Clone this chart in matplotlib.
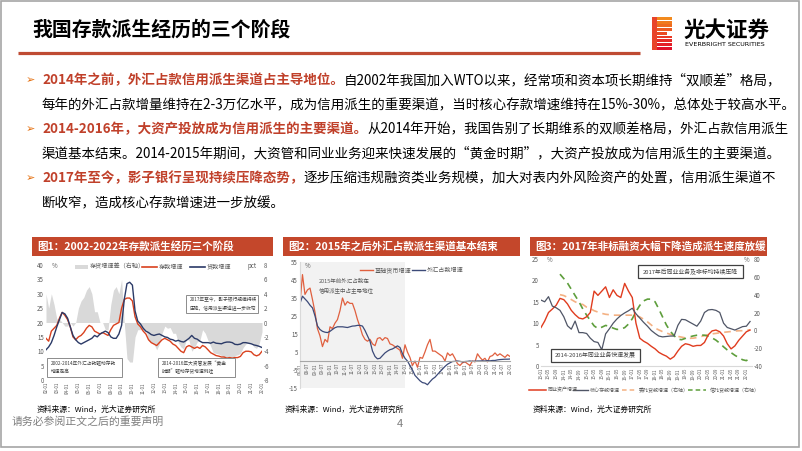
import matplotlib
matplotlib.use('Agg')
import matplotlib.pyplot as plt
import numpy as np
import pandas as pd
from matplotlib.patches import Rectangle

plt.rcParams['font.family'] = ['Noto Sans CJK SC', 'DejaVu Sans']
plt.rcParams['axes.unicode_minus'] = False

# ---------------- data ----------------
# Chart 1: quarterly, 2002Q1 - 2022Q1 (%)
deposit_growth = [14.5, 13.5, 17, 18, 19, 21.5, 23.5, 22.5, 21, 18.5, 15, 14,
                  15, 15.5, 16.5, 18, 19, 18.5, 17, 16.5, 16, 16.5, 16, 15.5,
                  17.5, 19, 19.5, 20, 25, 28, 28.5, 28.5, 27.5, 22, 19.5, 18.5,
                  17, 16, 14, 13, 12.5, 12, 13, 14, 14.5, 14, 13.5, 12.5,
                  12, 11, 10, 9.5, 11.5, 12, 11.5, 11, 11.5, 11, 12, 11.5,
                  10.5, 9.5, 9, 8.5, 8.3, 8, 8, 7.6, 7.8, 7.6, 7.8, 7.8,
                  8.2, 9.5, 10, 10, 9.8, 8.8, 8.4, 8.8, 10]
loan_growth = [10.5, 11.5, 13, 15.5, 18.5, 21, 23.5, 23, 21.5, 18.5, 15.5, 14,
               13, 12.5, 13, 13.5, 14, 14.5, 15.5, 15, 16, 16.5, 17, 16.5,
               15, 14.5, 14.5, 16, 19, 28, 33.5, 34, 33, 24, 20.5, 19.5,
               18, 17, 16.5, 15.8, 15.5, 15.8, 16, 15.5, 15, 14.8, 14.2, 14,
               13.5, 13.8, 13.4, 13.2, 13.8, 14.5, 15.5, 14.5, 14.2, 13.5, 13, 13,
               13, 12.8, 13.2, 12.8, 12.7, 12.6, 13, 13.2, 13.2, 13, 12.4, 12.3,
               12.5, 13, 13, 12.8, 12.6, 12.2, 12, 11.7, 11.3]
dates1 = pd.date_range('2002-01-01', periods=len(deposit_growth), freq='QS')

# Chart 2: bi-monthly, 2008-01 - 2022-01 (%)
base_money_growth = [32, 48, 37, 39.5, 40.5, 34,
                     27, 18, 14, 8, 12, 10.5,
                     19, 18, 21, 23, 28, 35,
                     31, 33, 32, 32, 28, 23,
                     19, 14.5, 12, 11, 12, 9.5,
                     8.5, 12.5, 13, 11.5, 13, 12.5,
                     9.5, 9, 8, 7, 6, 1.5,
                     9, 5, 2, -2.5, 0, -3.5,
                     2, 1.5, 5, 9, 12, 5.5,
                     5.5, 4.5, 3.5, 2.5, 0, 4.5,
                     3, 4, 1.5, -1.5, -2.5, -1,
                     -0.5, -1.5, -2.5, 0, -0.5, 4,
                     2, 0.5, 1.5, -0.5, 2.5, 3,
                     4.5, 3, 4, 3, 2, 3.5,
                     2.5]
fx_growth = [32, 36, 34.5, 33, 31, 29.5,
             25, 19.5, 17.5, 16.5, 16, 15.8,
             16.5, 17.5, 18.5, 19, 19, 19,
             18.8, 18.6, 19, 19.4, 19.5, 19.8,
             19.8, 19.4, 17, 14, 11, 5.5,
             2.5, 1.2, 1.5, 3, 4.5, 5.5,
             6.3, 6.7, 7.5, 8.4, 7.5, 4,
             1.5, 0, -2.5, -5, -8, -9.5,
             -11, -12, -12.3, -13.2, -11.5, -10,
             -9, -7.5, -6, -4.5, -3, -1.8,
             -1, -0.3, -0.2, 0, -0.2, -0.5,
             -0.3, -0.2, 0, -0.2, -0.1, 0,
             0, 0.1, 0, 0.2, 0.1, 0.3,
             0.3, 0.6, 0.8, 0.9, 1.0, 1.0,
             1.1]
dates2 = pd.date_range('2008-01-01', periods=len(base_money_growth), freq='2MS')

# Chart 3: bi-monthly, 2013-01 - 2022-03
interbank_growth = [9, 10.5, 12.5, 13.3, 14.2, 15.8,
                    15.5, 14.5, 13, 12, 11.2, 11,
                    11.5, 12.5, 17.5, 16.5, 17.5, 18.5,
                    16, 17.8, 16.5, 16, 19.3, 17.5,
                    16, 10, 6.5, 5.8, 5.3, 4.6,
                    4, 3.2, 2.7, 2.3, 1.6, 2.2,
                    3.5, 4.6, 5.2, 5, 4.6, 4.8,
                    4.8, 5.5, 7.3, 8.2, 8.4, 8,
                    7, 5.2, 4, 4.7, 6, 7,
                    8, 8.4]
core_deposit_growth = [15.4, 15, 16.2, 14, 13.6, 13,
                       11.5, 9.4, 8.6, 10.5, 7.8, 7.8,
                       7.6, 6.5, 5.7, 5.5, 3.8, 7.5,
                       8.7, 10, 11, 11.8, 12.4, 12.9,
                       13.5, 12.2, 11.2, 10.2, 9.3, 8.3,
                       7.6, 7, 6.8, 6.9, 7, 7,
                       9.5, 10.9, 10.8, 10.3, 9.8, 9.3,
                       10.5, 12.5, 13.1, 13.2, 13, 12.5,
                       10, 9, 8.7, 8.4, 8.8, 9.2,
                       9.3, 10.4]
entrusted_loan_growth = [np.nan, np.nan, np.nan, np.nan, np.nan, 40,
                         39, 37, 34.5, 32, 30, 29,
                         26, 24.5, 22, 20.5, 19, 18,
                         17.5, 17, 17, 17, 17, 17,
                         17, 16.5, 15, 12.5, 9.5, 6,
                         2.5, 0.5, -1.5, -3, -4.5, -5.5,
                         -6.8, -7.6, -8.5, -9, -8.8, -8.2,
                         -7, -6, -4.5, -4, -3.4, -2.8,
                         -2.2, -1.8, -1.3, -0.8, -0.5, -0.4,
                         0.3, 0.5]
trust_loan_growth = [np.nan, np.nan, np.nan, np.nan, np.nan, 63,
                     58, 53, 46, 39, 32, 24,
                     17, 11, 5, 2, 3.5, 5.5,
                     4.5, 2.5, 1, 1.5, 3, 7,
                     13, 21, 28, 33, 35, 35,
                     32, 24, 15, 6, -1, -6,
                     -10, -10.5, -9, -7.5, -6.3, -5.5,
                     -5.2, -5.5, -6.5, -8.5, -11, -14.5,
                     -18.5, -22, -25, -28, -30.5, -33,
                     -34, -31]
dates3 = pd.date_range('2013-01-01', periods=len(interbank_growth), freq='2MS')

# ---------------- layout ----------------
W, H = 802, 451
fig = plt.figure(figsize=(W / 100, H / 100), dpi=100)
fig.patch.set_facecolor('white')

bg = fig.add_axes([0, 0, 1, 1], label='bg')
bg.set_xlim(0, W)
bg.set_ylim(H, 0)
bg.axis('off')

RED_TXT = '#C0402A'
BANNER = '#C4472B'
GRAYTXT = '#595959'

def add_ax(x0, y0, x1, y1, label):
    return fig.add_axes([x0 / W, 1 - y1 / H, (x1 - x0) / W, (y1 - y0) / H], label=label)

# frame
bg.add_patch(Rectangle((1, 1), 798, 446, fill=False, ec='#A6A6A6', lw=1.2))

# title
bg.text(32, 29, '我国存款派生经历的三个阶段', fontsize=14.3, va='center', ha='left',
        color='black', weight='bold')
bg.plot([18, 640], [53, 53], color='#BF4B33', lw=2.3, solid_capstyle='butt')

# logo
stripe_cols = ['#F28A1E', '#F07A1E', '#EE6A1F', '#EC5A21', '#EA4A22', '#E83A24', '#E62A26', '#E41E28', '#E0102A']
for i, c in enumerate(stripe_cols):
    yy = 17 + i * 3.7
    wdt = 20 if i not in (4,) else 15
    bg.add_patch(Rectangle((652, yy), wdt, 2.9, color=c, lw=0))
bg.add_patch(Rectangle((652, 17), 5, 33, color='#E8442A', lw=0))
bg.text(684, 30, '光大证券', fontsize=15.5, weight='bold', va='center', ha='left', color='black')
bg.text(685, 45, 'EVERBRIGHT SECURITIES', fontsize=4.6, va='center', ha='left', color='black',
        family='DejaVu Sans')

# bullets
renderer = fig.canvas.get_renderer()
FS = 9.7

def rich_line(x, y, parts):
    for txt, color, weight in parts:
        t = bg.text(x, y, txt, fontsize=FS, color=color, weight=weight, va='center', ha='left')
        bb = t.get_window_extent(renderer=renderer)
        x = bb.x1

bullet_rows = [
    (80, [('2014年之前，外汇占款信用派生渠道占主导地位。', RED_TXT, 'bold'),
          ('自2002年我国加入WTO以来，经常项和资本项长期维持“双顺差”格局，', 'black', 'normal')]),
    (105, [('每年的外汇占款增量维持在2-3万亿水平，成为信用派生的重要渠道，当时核心存款增速维持在15%-30%，总体处于较高水平。', 'black', 'normal')]),
    (129, [('2014-2016年，大资产投放成为信用派生的主要渠道。', RED_TXT, 'bold'),
           ('从2014年开始，我国告别了长期维系的双顺差格局，外汇占款信用派生', 'black', 'normal')]),
    (153, [('渠道基本结束。2014-2015年期间，大资管和同业业务迎来快速发展的“黄金时期”，大资产投放成为信用派生的主要渠道。', 'black', 'normal')]),
    (178, [('2017年至今，影子银行呈现持续压降态势，', RED_TXT, 'bold'),
           ('逐步压缩违规融资类业务规模，加大对表内外风险资产的处置，信用派生渠道不', 'black', 'normal')]),
    (203, [('断收窄，造成核心存款增速进一步放缓。', 'black', 'normal')]),
]
for y, parts in bullet_rows:
    rich_line(42, y, parts)
for y in (80, 129, 178):
    bg.text(26, y, '➢', fontsize=8, color='#E46C0A', va='center', ha='left', family='DejaVu Sans')

# banners
banners = [(32, 273, '图1：2002-2022年存款派生经历三个阶段'),
           (283, 520, '图2：2015年之后外汇占款派生渠道基本结束'),
           (530, 767, '图3：2017年非标融资大幅下降造成派生速度放缓')]
for x0, x1, t in banners:
    bg.add_patch(Rectangle((x0, 237), x1 - x0, 19, color=BANNER, lw=0))
    bg.text(x0 + 5, 246.5, t, fontsize=7.6, color='white', weight='bold', va='center', ha='left')

# sources / footer
for x0 in (37, 285, 533):
    bg.text(x0, 410, '资料来源：Wind，光大证券研究所', fontsize=5.6, color='black', va='center', ha='left')
bg.text(12, 422, '请务必参阅正文之后的重要声明', fontsize=7.8, color='#7F7F7F', va='center', ha='left')
bg.text(400, 424, '4', fontsize=8, color='#7F7F7F', va='center', ha='center')


def style(ax, fs=4.4):
    ax.tick_params(axis='both', length=0, labelsize=fs, colors=GRAYTXT, pad=1.5)
    for s in ax.spines.values():
        s.set_visible(False)
    ax.patch.set_visible(False)


def date_ticks(ax, ticks, fs=3.2):
    ax.set_xticks(ticks)
    ax.set_xticklabels([d.strftime('%y-%m') for d in ticks], rotation=90, fontsize=fs, color=GRAYTXT)

# ---------------- chart 1 ----------------
RED1 = '#D9411E'
NAVY1 = '#2B3A67'
ax1 = add_ax(46, 265, 262, 380, 'c1')
ax1r = ax1.twinx()
spread = np.array(deposit_growth) - np.array(loan_growth)
ax1r.fill_between(dates1, 0, spread, color='#D9D9D9', lw=0)
ax1r.set_ylim(-8, 8)
ax1r.set_yticks(np.arange(-8, 9, 2))
ax1.plot(dates1, deposit_growth, color=RED1, lw=1.0)
ax1.plot(dates1, loan_growth, color=NAVY1, lw=1.0)
ax1.set_ylim(0, 40)
ax1.set_yticks(np.arange(0, 41, 5))
ax1.set_xlim(dates1[0], dates1[-1])
ax1.set_zorder(ax1r.get_zorder() + 1)
style(ax1); style(ax1r)
date_ticks(ax1, pd.date_range('2002-01-01', '2022-01-01', freq='YS'))

# ---------------- chart 2 ----------------
RED2 = '#E0603F'
NAVY2 = '#3C4A78'
ax2 = add_ax(300, 262, 510, 388, 'c2')
ax2.axvspan(dates2[0], pd.Timestamp('2015-01-01'), color='#F2F2F2', lw=0)
ax2.plot(dates2, base_money_growth, color=RED2, lw=0.9)
ax2.plot(dates2, fx_growth, color=NAVY2, lw=0.9)
ax2.set_ylim(-15, 55)
ax2.set_yticks(np.arange(-15, 56, 10))
ax2.set_xlim(dates2[0], dates2[-1])
style(ax2)
ax2.spines['bottom'].set_visible(True)
ax2.spines['bottom'].set_position(('data', 0))
ax2.spines['bottom'].set_color('#A6A6A6')
ax2.spines['bottom'].set_linewidth(0.8)
ax2.spines['left'].set_visible(True)
ax2.spines['left'].set_color('#D9D9D9')
date_ticks(ax2, pd.date_range('2008-01-01', '2022-01-01', freq='6MS'))

# ---------------- chart 3 ----------------
RED3 = '#E03C1F'
GRAY3 = '#4F5566'
ax3 = add_ax(541, 259, 752, 366, 'c3')
ax3r = ax3.twinx()
ax3r.plot(dates3, entrusted_loan_growth, color='#F4B183', lw=1.2, dashes=(4, 3))
ax3r.plot(dates3, trust_loan_growth, color='#5E9E3C', lw=1.2, dashes=(4, 3))
ax3r.set_ylim(-40, 80)
ax3r.set_yticks(np.arange(-40, 81, 20))
ax3.plot(dates3, interbank_growth, color=RED3, lw=1.0)
ax3.plot(dates3, core_deposit_growth, color=GRAY3, lw=0.9)
ax3.set_ylim(0, 25)
ax3.set_yticks(np.arange(0, 26, 5))
ax3.set_xlim(pd.Timestamp('2013-01-01'), pd.Timestamp('2022-04-01'))
ax3.set_zorder(ax3r.get_zorder() + 1)
style(ax3); style(ax3r)
ax3.spines['bottom'].set_visible(True)
ax3.spines['bottom'].set_color('#D9D9D9')
date_ticks(ax3, pd.date_range('2013-01-01', '2022-01-01', freq='4MS'))

# ---------------- foreground annotations ----------------
fg = fig.add_axes([0, 0, 1, 1], label='fg')
fg.set_xlim(0, W)
fg.set_ylim(H, 0)
fg.axis('off')
fg.set_zorder(20)

LFS = 4.4
# chart 1 legend
fg.add_patch(Rectangle((75, 264.5), 13, 4, color='#D9D9D9', lw=0))
fg.text(90, 266.5, '存贷增速差（右轴）', fontsize=LFS, color=GRAYTXT, va='center')
fg.plot([142, 157], [266.5, 266.5], color=RED1, lw=1.2)
fg.text(159, 266.5, '存款增速', fontsize=LFS, color=GRAYTXT, va='center')
fg.plot([190, 205], [266.5, 266.5], color=NAVY1, lw=1.2)
fg.text(207, 266.5, '贷款增速', fontsize=LFS, color=GRAYTXT, va='center')
fg.text(52, 266, '%', fontsize=LFS, color=GRAYTXT, va='center')
fg.text(257, 266, 'pct', fontsize=LFS, color=GRAYTXT, va='center', ha='right')

def box(x0, y0, x1, y1, txt, ec='#8C8C8C', fs=3.4, lw=0.7, center=False):
    fg.add_patch(Rectangle((x0, y0), x1 - x0, y1 - y0, fc='white', ec=ec, lw=lw))
    if center:
        fg.text((x0 + x1) / 2, (y0 + y1) / 2, txt, fontsize=fs, color='#404040', va='center', ha='center',
                linespacing=1.5)
    else:
        fg.text(x0 + 4, (y0 + y1) / 2, txt, fontsize=fs, color='#404040', va='center', ha='left',
                linespacing=1.7)

box(186, 295, 258, 313, '2017年至今，影子银行规模持续\n压降，信用派生渠道进一步收窄')
box(47, 358, 122, 377, '2002-2014年外汇占款驱动存款\n增速走高')
box(158, 358, 235, 377, '2014-2016年大资管发展“黄金\n时期”驱动存贷增速倒挂')

# chart 2 legend / notes
fg.text(305, 266, '%', fontsize=LFS, color=GRAYTXT, va='center')
fg.plot([360, 373], [270, 270], color=RED2, lw=1.0)
fg.text(375, 270, '基础货币增速', fontsize=LFS, color=GRAYTXT, va='center')
fg.plot([412, 425], [270, 270], color=NAVY2, lw=1.0)
fg.text(427, 270, '外汇占款增速', fontsize=LFS, color=GRAYTXT, va='center')
fg.text(319, 286, '2015年前外汇占款在\n信用派生中占主导地位', fontsize=4.0, color=GRAYTXT,
        va='center', ha='left', linespacing=1.7)

# chart 3 legend / notes
fg.text(547, 259.5, '%', fontsize=LFS, color=GRAYTXT, va='center')
fg.text(749, 259.5, '%', fontsize=LFS, color=GRAYTXT, va='center', ha='right')
box(638, 265, 743, 278, '2017年后同业业务及非标均持续压降', ec='#404040', fs=4.2, lw=0.9, center=True)
box(551, 349, 640, 362, '2014-2016年同业业务快速发展', ec='#404040', fs=4.2, lw=0.9, center=True)
LY = 390
fg.plot([529, 546], [LY, LY], color=RED3, lw=1.1)
fg.text(548, LY, '同业资产增速', fontsize=3.6, color=GRAYTXT, va='center')
fg.plot([573, 588], [LY, LY], color=GRAY3, lw=1.0)
fg.text(590, LY, '核心存款增速', fontsize=3.6, color=GRAYTXT, va='center')
fg.plot([622, 636], [LY, LY], color='#F4B183', lw=1.1, dashes=(3, 2))
fg.text(639, LY, '委托贷款增速（右轴）', fontsize=3.6, color=GRAYTXT, va='center')
fg.plot([688, 706], [LY, LY], color='#5E9E3C', lw=1.1, dashes=(3, 2))
fg.text(710, LY, '信托贷款增速（右轴）', fontsize=3.6, color=GRAYTXT, va='center')

fig.savefig('out.png', dpi=100, facecolor='white')
